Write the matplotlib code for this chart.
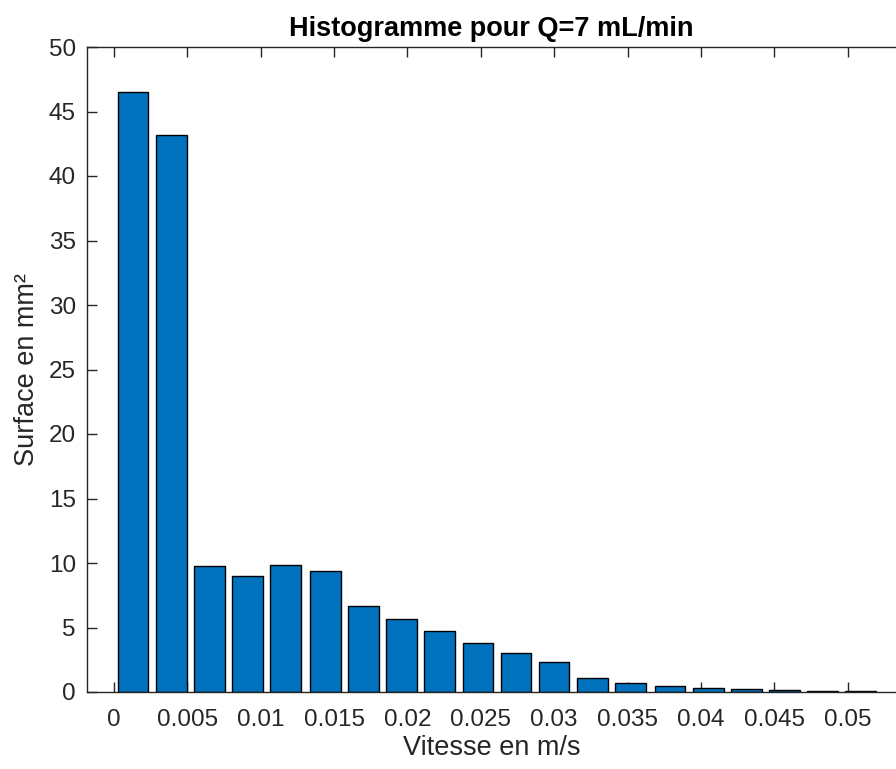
import matplotlib
matplotlib.use("Agg")
import matplotlib.pyplot as plt

# bin centres (m/s) and surfaces (mm²)
centres = [0.0013, 0.0039, 0.0065, 0.0091, 0.0117, 0.0144, 0.0170, 0.0196, 0.0222, 0.0248,
           0.0274, 0.0300, 0.0326, 0.0352, 0.0379, 0.0405, 0.0431, 0.0457, 0.0483, 0.0509]
surfaces = [46.5, 43.2, 9.77, 9.0, 9.87, 9.38, 6.64, 5.68, 4.75, 3.77,
            3.0, 2.3, 1.05, 0.67, 0.46, 0.33, 0.23, 0.15, 0.07, 0.05]
bin_width = 0.00261

xticks = [0, 0.005, 0.01, 0.015, 0.02, 0.025, 0.03, 0.035, 0.04, 0.045, 0.05]
xticklabels = ["0", "0.005", "0.01", "0.015", "0.02", "0.025", "0.03", "0.035", "0.04", "0.045", "0.05"]
yticks = [0, 5, 10, 15, 20, 25, 30, 35, 40, 45, 50]

plt.rcParams['font.family'] = ['Liberation Sans', 'DejaVu Sans']
fig = plt.figure(figsize=(8.96, 7.69), dpi=100)
ax = fig.add_axes([87/896, 1 - 692/769, 1 - 87/896, (692 - 47)/769])

ax.bar(centres, surfaces, width=bin_width * 0.8, color='#0072BD', edgecolor='black', linewidth=1.0, zorder=2)

ax.set_xlim(-0.00184, 0.0533)
ax.set_ylim(0, 50)
ax.set_xticks(xticks)
ax.set_xticklabels(xticklabels)
ax.set_yticks(yticks)

tc = '#262626'
ax.tick_params(direction='in', length=7, width=1.0, colors=tc, labelsize=17.5, top=True, right=False)
ax.tick_params(axis='x', pad=12)
ax.tick_params(axis='y', pad=8)
for s in ['left', 'bottom', 'top']:
    ax.spines[s].set_color(tc)
    ax.spines[s].set_linewidth(1.0)
ax.spines['right'].set_visible(False)

ax.set_xlabel('Vitesse en m/s', fontsize=19.5, color=tc, labelpad=3)
ax.set_ylabel('Surface en mm²', fontsize=19.5, color=tc, labelpad=6)
ax.set_title('Histogramme pour Q=7 mL/min', fontsize=19.5, fontweight='bold', color='black', pad=8)

fig.savefig('out.png', dpi=100)
